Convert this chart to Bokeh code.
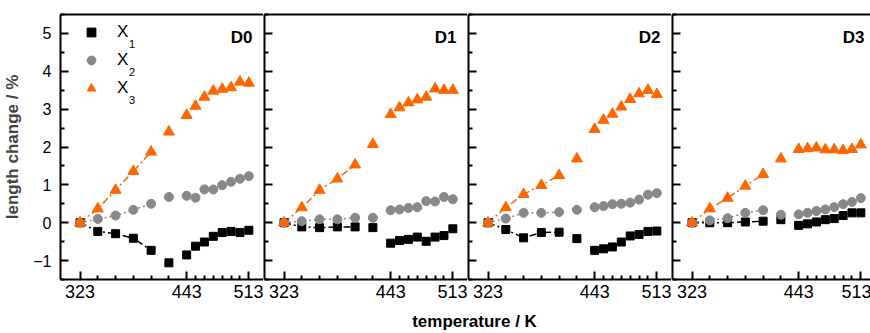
from bokeh.plotting import figure
from bokeh.layouts import row, column
from bokeh.models import FixedTicker, Range1d, LinearAxis, Legend, LegendItem, Label, CustomJSTickFormatter
from bokeh.embed import file_html
from bokeh.resources import INLINE

# ---- data ----
temperature = [323, 343, 363, 383, 403, 423, 443, 453, 463, 473, 483, 493, 503, 513]
panel_names = ["D0", "D1", "D2", "D3"]
series_base = "X"
series_index = ["1", "2", "3"]

d0_x1 = [0.0, -0.23, -0.29, -0.41, -0.73, -1.06, -0.85, -0.62, -0.51, -0.36, -0.26, -0.23, -0.26, -0.20]
d0_x2 = [0.0, 0.10, 0.19, 0.34, 0.50, 0.68, 0.71, 0.66, 0.88, 0.88, 0.99, 1.08, 1.16, 1.23]
d0_x3 = [0.0, 0.37, 0.86, 1.36, 1.87, 2.40, 2.84, 3.08, 3.32, 3.48, 3.53, 3.57, 3.72, 3.69]

d1_x1 = [0.0, -0.11, -0.13, -0.11, -0.11, -0.13, -0.54, -0.47, -0.44, -0.38, -0.49, -0.38, -0.34, -0.16]
d1_x2 = [0.0, 0.04, 0.09, 0.09, 0.13, 0.13, 0.33, 0.35, 0.39, 0.41, 0.57, 0.56, 0.68, 0.62]
d1_x3 = [0.0, 0.40, 0.86, 1.16, 1.53, 2.07, 2.86, 3.04, 3.17, 3.25, 3.32, 3.54, 3.50, 3.50]

d2_x1 = [0.0, -0.18, -0.40, -0.26, -0.25, -0.42, -0.73, -0.69, -0.64, -0.51, -0.35, -0.31, -0.23, -0.22]
d2_x2 = [0.0, 0.11, 0.26, 0.26, 0.28, 0.34, 0.41, 0.44, 0.49, 0.50, 0.53, 0.61, 0.74, 0.78]
d2_x3 = [0.0, 0.40, 0.75, 0.99, 1.25, 1.69, 2.47, 2.71, 2.87, 3.06, 3.26, 3.41, 3.50, 3.39]

d3_x1 = [0.0, 0.0, 0.0, 0.02, 0.04, 0.08, -0.07, -0.03, 0.02, 0.08, 0.11, 0.19, 0.26, 0.26]
d3_x2 = [0.0, 0.06, 0.12, 0.26, 0.33, 0.21, 0.22, 0.26, 0.31, 0.35, 0.41, 0.49, 0.55, 0.65]
d3_x3 = [0.0, 0.37, 0.65, 0.97, 1.28, 1.69, 1.94, 1.96, 1.98, 1.93, 1.93, 1.91, 1.94, 2.06]

panel_data = [
    (d0_x1, d0_x2, d0_x3),
    (d1_x1, d1_x2, d1_x3),
    (d2_x1, d2_x2, d2_x3),
    (d3_x1, d3_x2, d3_x3),
]

x_major_ticks = [323, 443, 513]
x_minor_ticks = [343, 363, 383, 403, 423, 453, 463, 473, 483, 493, 503]
y_major_ticks = [-1, 0, 1, 2, 3, 4, 5]
y_minor_ticks = [-1.5, -0.5, 0.5, 1.5, 2.5, 3.5, 4.5, 5.5]
n_connected = 5  # first points joined by a dash-dot line

# ---- styles ----
FONT = "Liberation Sans"
colors = ["#000000", "#888888", "#FF6600"]
markers = ["square", "circle", "triangle"]
sizes = [8, 9, 11]
dashes = ["7 3 2 3", "2 3", "7 3 2 3"]

ROW_H = 306
LABEL_H = 333 - ROW_H
FRAME_H = 265
K_PER_PX = 228.5 / 203.0
frame_widths = [203, 203, 203, 199]

LEG_TOP = 7
LEG_ROW = 22
LEG_SP = 6
LEG_X = 20
LEG_STANDOFF = 15

figs = []
for i, (name, data) in enumerate(zip(panel_names, panel_data)):
    fw = frame_widths[i]
    x0 = 301.0
    x1 = x0 + fw * K_PER_PX
    f = figure(frame_width=fw, height=ROW_H,
               x_range=Range1d(x0, x1), y_range=Range1d(-1.5, 5.5),
               output_backend="svg", toolbar_location=None,
               min_border_left=59 if i == 0 else 1, min_border_right=0,
               min_border_top=14, min_border_bottom=27)
    f.outline_line_color = None
    f.grid.visible = False
    f.background_fill_color = "white"
    f.border_fill_color = "white"

    rs = []
    for k in range(3):
        ys = data[k]
        f.line(temperature[:n_connected], ys[:n_connected], line_color=colors[k],
               line_width=1.5, line_dash=dashes[k])
    for k in range(3):
        r = f.scatter(temperature, data[k], marker=markers[k], size=sizes[k],
                      fill_color=colors[k], line_color=colors[k])
        rs.append(r)

    xa = f.xaxis[0]
    xa.ticker = FixedTicker(ticks=x_major_ticks, minor_ticks=x_minor_ticks)
    xa.axis_line_width = 2
    xa.major_tick_in = 8
    xa.major_tick_out = 0
    xa.minor_tick_in = 4
    xa.minor_tick_out = 0
    xa.major_tick_line_width = 2
    xa.minor_tick_line_width = 2
    xa.major_label_text_font = FONT
    xa.major_label_text_font_size = "18px"
    xa.major_label_text_color = "black"
    xa.major_label_standoff = 5

    ya = f.yaxis[0]
    ya.ticker = FixedTicker(ticks=y_major_ticks, minor_ticks=y_minor_ticks)
    ya.axis_line_width = 2
    ya.major_tick_in = 8
    ya.major_tick_out = 0
    ya.minor_tick_in = 4
    ya.minor_tick_out = 0
    ya.major_tick_line_width = 2
    ya.minor_tick_line_width = 2
    if i == 0:
        ya.major_label_text_font = FONT
        ya.major_label_text_font_size = "16px"
        ya.major_label_text_color = "black"
        ya.major_label_standoff = 9
        ya.axis_label = "length change / %"
        ya.axis_label_text_font = FONT
        ya.axis_label_text_font_size = "17px"
        ya.axis_label_text_font_style = "bold"
        ya.axis_label_standoff = 8
    else:
        ya.formatter = CustomJSTickFormatter(code="return ''")
        ya.major_label_standoff = 0

    top = LinearAxis(ticker=FixedTicker(ticks=[]), axis_line_width=2,
                     major_tick_line_color=None, minor_tick_line_color=None,
                     major_label_standoff=0)
    f.add_layout(top, "above")

    f.add_layout(Label(x=192, y=FRAME_H - 13, x_units="screen", y_units="screen",
                       text=name, text_font=FONT, text_font_size="17px",
                       text_font_style="bold", text_align="right",
                       text_baseline="top", text_color="black"))

    if i == 0:
        legend_h = 3 * LEG_ROW + 2 * LEG_SP
        legend = Legend(items=[LegendItem(label=series_base, renderers=[rs[k]]) for k in range(3)],
                        location=(LEG_X, FRAME_H - LEG_TOP - legend_h), padding=0, margin=0,
                        spacing=LEG_SP, glyph_width=LEG_ROW, glyph_height=LEG_ROW,
                        label_height=LEG_ROW, label_standoff=LEG_STANDOFF,
                        label_text_font=FONT, label_text_color="black",
                        label_text_font_size="17px", background_fill_alpha=0,
                        border_line_color=None)
        f.add_layout(legend)
        # subscript indices of the legend labels
        for k in range(3):
            f.add_layout(Label(x=LEG_X + LEG_ROW + LEG_STANDOFF + 11.5,
                               y=FRAME_H - 29 - k * (LEG_ROW + LEG_SP),
                               x_units="screen", y_units="screen", text=series_index[k],
                               text_font=FONT, text_font_size="11px", text_color="black",
                               text_align="left", text_baseline="alphabetic"))
    figs.append(f)

xlabel_fig = figure(width=870, height=LABEL_H, output_backend="svg", toolbar_location=None,
                    min_border=0, x_range=Range1d(0, 1), y_range=Range1d(0, 1))
xlabel_fig.axis.visible = False
xlabel_fig.grid.visible = False
xlabel_fig.outline_line_color = None
xlabel_fig.add_layout(Label(x=474, y=LABEL_H / 2 - 1, x_units="screen", y_units="screen",
                            text="temperature / K", text_font=FONT, text_font_size="17px",
                            text_font_style="bold", text_align="center",
                            text_baseline="middle", text_color="black"))

layout = column(row(*figs, spacing=0), xlabel_fig, spacing=0)

open("out.html", "w").write(file_html(layout, INLINE))
